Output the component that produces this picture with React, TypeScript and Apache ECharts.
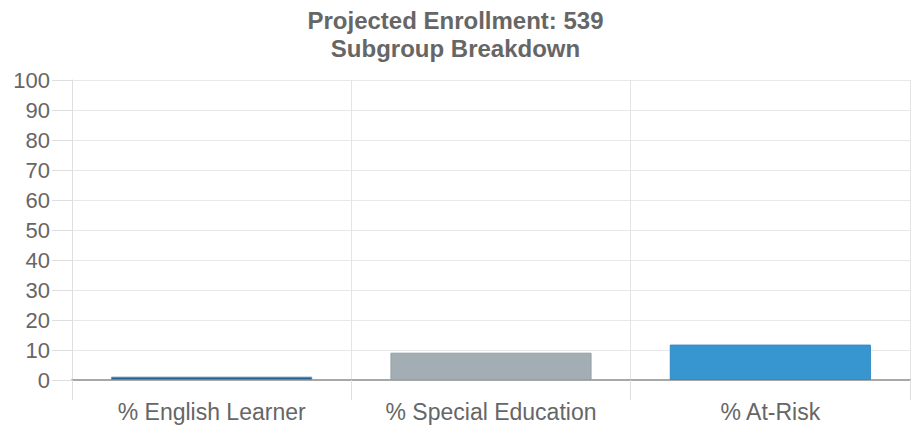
import React, { useEffect, useRef } from "react";
import * as echarts from "echarts";

const categories = ["% English Learner", "% Special Education", "% At-Risk"];
const values = [1.1, 9.1, 11.8];
const barColors = ["#215f8d", "#a3adb4", "#3796cf"];
const borderColors = ["#5b8db5", "#959fa6", "#2f8bc3"];
const titleLines = ["Projected Enrollment: 539", "Subgroup Breakdown"];

export default function App() {
  const ref = useRef<HTMLDivElement>(null);
  useEffect(() => {
    if (!ref.current) return;
    const chart = echarts.init(ref.current, undefined, { renderer: "svg" });
    const font = "Liberation Sans, Arial, sans-serif";
    chart.setOption({
      animation: false,
      title: {
        text: titleLines.join("\n"),
        left: "center",
        top: 1,
        textStyle: {
          fontFamily: font,
          fontSize: 24,
          fontWeight: "bold",
          color: "#666",
          lineHeight: 28,
        },
      },
      grid: { left: 72, right: 1, top: 80, bottom: 47, containLabel: false },
      xAxis: {
        type: "category",
        data: categories,
        axisLine: { lineStyle: { color: "#a8a8a8", width: 2 } },
        axisTick: { show: true, interval: 0, length: 20, lineStyle: { color: "#dedede" } },
        splitLine: { show: true, interval: 0, lineStyle: { color: "#e4e4e4" } },
        axisLabel: { interval: 0, fontFamily: font, fontSize: 23, color: "#666", margin: 20 },
      },
      yAxis: {
        type: "value",
        min: 0,
        max: 100,
        interval: 10,
        axisLine: { show: true, lineStyle: { color: "#dedede" } },
        axisTick: { show: true, length: 20, lineStyle: { color: "#dedede" } },
        splitLine: { show: true, lineStyle: { color: "#e8e8e8" } },
        axisLabel: { fontFamily: font, fontSize: 22, color: "#666", margin: 22 },
      },
      series: [
        {
          type: "bar",
          barWidth: "72%",
          data: values.map((v, i) => ({
            value: v,
            itemStyle: { color: barColors[i], borderColor: borderColors[i], borderWidth: 1 },
          })),
        },
      ],
    });
    return () => chart.dispose();
  }, []);
  return (
    <div
      ref={ref}
      style={{ position: "absolute", left: 0, top: 0, width: 911, height: 427 }}
    />
  );
}
